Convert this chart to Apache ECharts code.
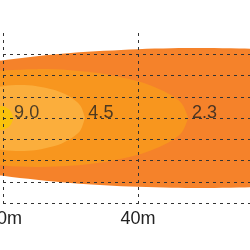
<!DOCTYPE html>
<html><head><meta charset="utf-8">
<script src="https://cdn.jsdelivr.net/npm/echarts@6/dist/echarts.min.js"></script>
<style>html,body{margin:0;padding:0;background:#fff}#c{width:250px;height:250px}</style>
</head><body><div id="c"></div>
<script>
// x-axis ticks (distance in m)
const xTicks = [0, 40, 80];
// contour outlines: distance (m) and half-width (lateral units)
const outerDist  = [-10, 0, 10, 20, 30, 40, 50, 60, 70, 80, 90, 100];
const outerHalf  = [2.48, 2.72, 2.91, 3.06, 3.16, 3.24, 3.28, 3.29, 3.27, 3.22, 3.13, 3.02];
const midDist    = [-10, 0, 10, 20, 30, 40, 45, 50, 53, 54.9];
const midHalf    = [2.02, 2.23, 2.30, 2.25, 2.07, 1.73, 1.45, 1.06, 0.67, 0];
const innerDist  = [-10, -5, 0, 5, 10, 15, 18, 21, 23, 24.3];
const innerHalf  = [0.98, 1.33, 1.50, 1.55, 1.50, 1.33, 1.15, 0.87, 0.56, 0];
const spotDist   = [-5.5, -4, -2.5, -1, 0.5, 2, 3.2];
const spotHalf   = [0, 0.40, 0.52, 0.56, 0.52, 0.38, 0];
// contour labels (lux)
const labelDist  = [7.0, 29.0, 59.7];
const labelText  = ['9.0', '4.5', '2.3'];
const labelY     = [0.22, 0.22, 0.22];

const colors = ['#F5822A', '#F8961E', '#FBAE3C', '#F9C20C'];

function outline(dist, half) {
  const up = dist.map((d, i) => [d, half[i]]);
  const down = dist.map((d, i) => [d, -half[i]]).reverse();
  return up.concat(down);
}
const shapes = [
  outline(outerDist, outerHalf),
  outline(midDist, midHalf),
  outline(innerDist, innerHalf),
  outline(spotDist, spotHalf)
];

function contourSeries(pts, color) {
  return {
    type: 'custom',
    clip: false,
    silent: true,
    data: [[0, 0]],
    renderItem: function (params, api) {
      return {
        type: 'polygon',
        shape: { points: pts.map(p => api.coord(p)), smooth: 0.35 },
        style: { fill: color, stroke: null }
      };
    }
  };
}

const chart = echarts.init(document.getElementById('c'), null, { renderer: 'canvas' });
const font = 'Liberation Sans, Arial, sans-serif';
const dashLine = { show: true, lineStyle: { color: '#333', width: 1, type: [3, 4] } };

chart.setOption({
  animation: false,
  backgroundColor: '#ffffff',
  grid: { left: 3, right: -23, top: 33, bottom: 47, containLabel: false, outerBoundsMode: 'none' },
  xAxis: {
    type: 'value', min: xTicks[0], max: xTicks[xTicks.length - 1], interval: 40, z: 10,
    axisLine: { show: false }, axisTick: { show: false },
    axisLabel: {
      formatter: v => v === xTicks[0] ? '{first|' + v + 'm}' : v + 'm',
      fontSize: 18, color: '#222', fontFamily: font, margin: 7,
      rich: { first: { fontSize: 18, color: '#222', fontFamily: font, padding: [0, 0, 0, 13] } }
    },
    splitLine: dashLine
  },
  yAxis: {
    type: 'value', min: -4, max: 4, interval: 1, z: 10,
    axisLine: { show: false }, axisTick: { show: false }, axisLabel: { show: false },
    splitLine: Object.assign({ showMaxLine: false, showMinLine: true }, dashLine)
  },
  series: shapes.map((s, i) => contourSeries(s, colors[i])).concat([{
    type: 'scatter',
    symbolSize: 1,
    itemStyle: { color: 'rgba(0,0,0,0)' },
    z: 5,
    silent: true,
    data: labelDist.map((d, i) => ({ value: [d, labelY[i]], name: labelText[i] })),
    label: {
      show: true, position: 'inside', formatter: p => p.name,
      fontSize: 18, color: '#222', fontFamily: font
    }
  }])
});
</script>
</body></html>
